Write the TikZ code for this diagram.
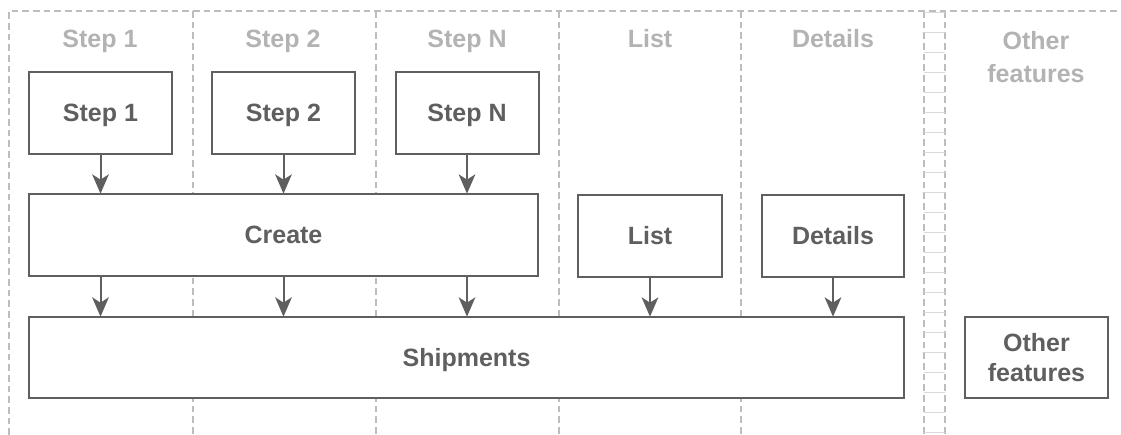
\documentclass[tikz,border=0pt]{standalone}
\usepackage{fontspec}
\setmainfont{Liberation Sans}
\usetikzlibrary{arrows.meta}
\definecolor{boxgray}{HTML}{5F5F5F}
\definecolor{headgray}{HTML}{B3B3B3}
\definecolor{lanegray}{HTML}{BDBDBD}
\definecolor{tickgray}{HTML}{DADADA}
\tikzset{
  box/.style={draw=boxgray, line width=1.5pt, fill=white, text=boxgray,
    font=\bfseries\fontsize{18.75}{22.5}\selectfont, inner sep=0pt, align=center,
    minimum height=61.5pt, text height=13.4pt, text depth=0pt},
  head/.style={text=headgray, font=\bfseries\fontsize{18.75}{24.5}\selectfont, align=center, inner sep=0pt},
  lane/.style={draw=lanegray, line width=0.9pt, dash pattern=on 5pt off 3pt},
  flow/.style={draw=boxgray, line width=1.5pt, -{Stealth[length=14.5pt,width=12.5pt,inset=4pt]}, shorten >=-0.5pt},
  tick/.style={draw=tickgray, line width=0.6pt}
}
\begin{document}
\begin{tikzpicture}[x=0.75pt,y=-0.75pt]
\useasboundingbox (0,0) rectangle (1121,435);
\fill[white] (0,0) rectangle (1121,435);
% frame and lanes
\draw[lane] (9,435) -- (9,11) -- (1121,11);
\foreach \xx in {193,376,559,741,924,945}{
  \draw[lane] (\xx,11) -- (\xx,435);
}
\foreach \yy in {12,32,...,432}{
  \draw[tick] (924,\yy) -- (945,\yy);
}
% headers
\node[head, anchor=base] (h1) at (100,48) {Step 1};
\node[head, anchor=base] (h2) at (283,48) {Step 2};
\node[head, anchor=base] (h3) at (467,48) {Step N};
\node[head, anchor=base] (h4) at (650,48) {List};
\node[head, anchor=base] (h5) at (833,48) {Details};
\node[head, text height=37.9pt, text depth=0pt] (h6) at (1036,57) {Other\\features};
% boxes
\node[box, minimum width=107.25pt] (s1) at (100.5,113) {Step 1};
\node[box, minimum width=107.25pt] (s2) at (283.5,113) {Step 2};
\node[box, minimum width=107.25pt] (sn) at (467,113) {Step N};
\node[box, minimum width=381.75pt] (create) at (283.5,235) {Create};
\node[box, minimum width=108pt] (list) at (650,235.5) {List};
\node[box, minimum width=106.5pt] (details) at (833,235.5) {Details};
\node[box, minimum width=656.25pt, minimum height=60.75pt] (ship) at (466.5,357.5) {Shipments};
\node[box, minimum width=107.25pt, minimum height=60.75pt, text height=35.9pt, text depth=0pt] (other) at (1036.5,357.5) {Other\\features};
% arrows
\draw[flow] (s1.south) -- (s1.south |- create.north);
\draw[flow] (s2.south) -- (s2.south |- create.north);
\draw[flow] (sn.south) -- (sn.south |- create.north);
\draw[flow] (s1.south |- create.south) -- (s1.south |- ship.north);
\draw[flow] (s2.south |- create.south) -- (s2.south |- ship.north);
\draw[flow] (sn.south |- create.south) -- (sn.south |- ship.north);
\draw[flow] (list.south) -- (list.south |- ship.north);
\draw[flow] (details.south) -- (details.south |- ship.north);
\end{tikzpicture}
\end{document}
